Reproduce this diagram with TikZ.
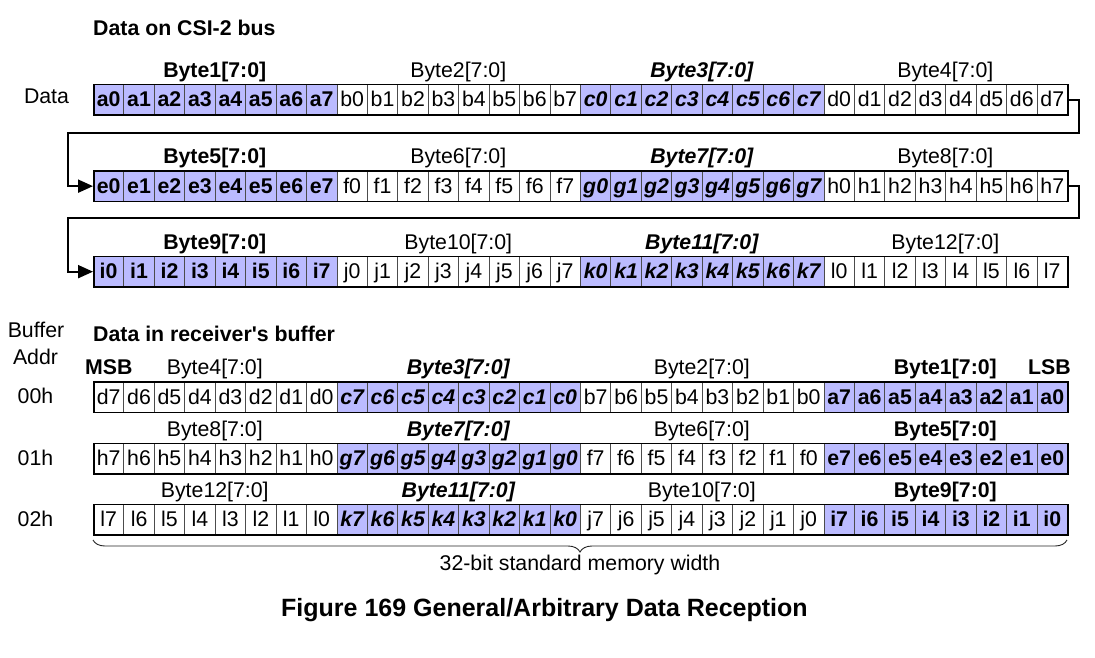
\documentclass[tikz,border=0pt]{standalone}
\usepackage{fontspec}
\setmainfont{Liberation Sans}
\newfontfamily\lsans{Liberation Sans}
\usetikzlibrary{arrows.meta,decorations.pathreplacing,calc}
\definecolor{cellblue}{RGB}{187,187,255}
\newcommand\fr{\lsans\fontsize{21.3}{24}\selectfont}
\begin{document}
\begin{tikzpicture}[x=1pt,y=-1pt,
  every node/.style={inner sep=0pt},
  bitcell/.style={draw=black!70, line width=0.8pt, minimum width=30.44pt, minimum height=30.5pt,
    anchor=north west, text height=15pt, text depth=0pt, font=\fr},
  fb/.style={fill=cellblue, font=\fr\bfseries},
  fbi/.style={fill=cellblue, font=\fr\bfseries\itshape},
  wr/.style={fill=white, font=\fr},
  lr/.style={font=\fr},
  lb/.style={font=\fr\bfseries},
  lbi/.style={font=\fr\bfseries\itshape},
  rowbox/.style={draw=black, line width=1.8pt, minimum width=974.08pt, minimum height=30.5pt, anchor=north west},
  conn/.style={line width=2pt, -{Triangle[length=15pt,width=13pt]}},
  txt/.style={font=\fr},
  txtb/.style={font=\fr\bfseries},
  capt/.style={font=\lsans\fontsize{25}{28}\selectfont\bfseries},
  bracestyle/.style={draw=black!85, line width=0.9pt, decorate, decoration={brace,mirror,amplitude=12pt}}
]
\fill[white] (0,0) rectangle (1095,657);
\path[use as bounding box] (0,0) rectangle (1095,657);

% ---------- Data on CSI-2 bus ----------
\node[txtb, anchor=base west] (title1) at (93,35) {Data on CSI-2 bus};
\node[txt, anchor=base] (datalbl) at (46.5,103) {Data};

\foreach \rowtop/\rn/\la/\lb/\lc/\ld/\na/\nb/\nc/\nd in
  {83.5/1/a/b/c/d/1/2/3/4, 170/2/e/f/g/h/5/6/7/8, 255.5/3/i/j/k/l/9/10/11/12} {
  \foreach \g/\L/\st/\N/\lst in {0/\la/fb/\na/lb, 1/\lb/wr/\nb/lr, 2/\lc/fbi/\nc/lbi, 3/\ld/wr/\nd/lr} {
    \foreach \k in {0,...,7} {
      \node[bitcell,\st] (t\rn-\g-\k) at ({93+(\g*8+\k)*30.44},\rowtop) {\L\k};
    }
    \node[\lst, anchor=base] (tl\rn-\g) at ({93+(\g*8+4)*30.44},\rowtop-6.5) {Byte\N[7:0]};
  }
}
\node[rowbox] (row1) at (93,83.5) {};
\node[rowbox] (row2) at (93,170) {};
\node[rowbox] (row3) at (93,255.5) {};

\coordinate (t1r) at (1079,132.5);
\coordinate (t1l) at (68,132.5);
\coordinate (t2r) at (1079,218);
\coordinate (t2l) at (68,218);
\draw[conn] (row1.east) -| (t1r) -- (t1l) |- (row2.west);
\draw[conn] (row2.east) -| (t2r) -- (t2l) |- (row3.west);

% ---------- Data in receiver's buffer ----------
\node[txt, anchor=base] (buf) at (36,337.5) {Buffer};
\node[txt, anchor=base] (addr) at (35.5,364) {Addr};
\node[txtb, anchor=base west] (title2) at (93,341.5) {Data in receiver\textquotesingle s buffer};
\node[txtb, anchor=base west] (msb) at (85,374.5) {MSB};
\node[txtb, anchor=base east] (lsb) at (1071,374.5) {LSB};
\node[txt, anchor=base] (a00) at (35.5,403.5) {00h};
\node[txt, anchor=base] (a01) at (35.5,465) {01h};
\node[txt, anchor=base] (a02) at (35.5,526) {02h};

\foreach \rowtop/\rn/\la/\lb/\lc/\ld/\na/\nb/\nc/\nd in
  {381/1/d/c/b/a/4/3/2/1, 442.5/2/h/g/f/e/8/7/6/5, 503.5/3/l/k/j/i/12/11/10/9} {
  \foreach \g/\L/\st/\N/\lst in {0/\la/wr/\na/lr, 1/\lb/fbi/\nb/lbi, 2/\lc/wr/\nc/lr, 3/\ld/fb/\nd/lb} {
    \foreach \k in {0,...,7} {
      \pgfmathtruncatemacro\bit{7-\k}
      \node[bitcell,\st] (b\rn-\g-\k) at ({93+(\g*8+\k)*30.44},\rowtop) {\L\bit};
    }
    \node[\lst, anchor=base] (bl\rn-\g) at ({93+(\g*8+4)*30.44},\rowtop-6.5) {Byte\N[7:0]};
  }
}
\node[rowbox] (brow1) at (93,381) {};
\node[rowbox] (brow2) at (93,442.5) {};
\node[rowbox] (brow3) at (93,503.5) {};

\coordinate (brL) at (93,540);
\coordinate (brR) at (1067,540);
\draw[bracestyle] (brL) -- (brR);
\node[txt, anchor=base] (width) at (580,570) {32-bit standard memory width};

\node[capt, anchor=base] (caption) at (544.5,616) {Figure 169 General/Arbitrary Data Reception};
\end{tikzpicture}
\end{document}
